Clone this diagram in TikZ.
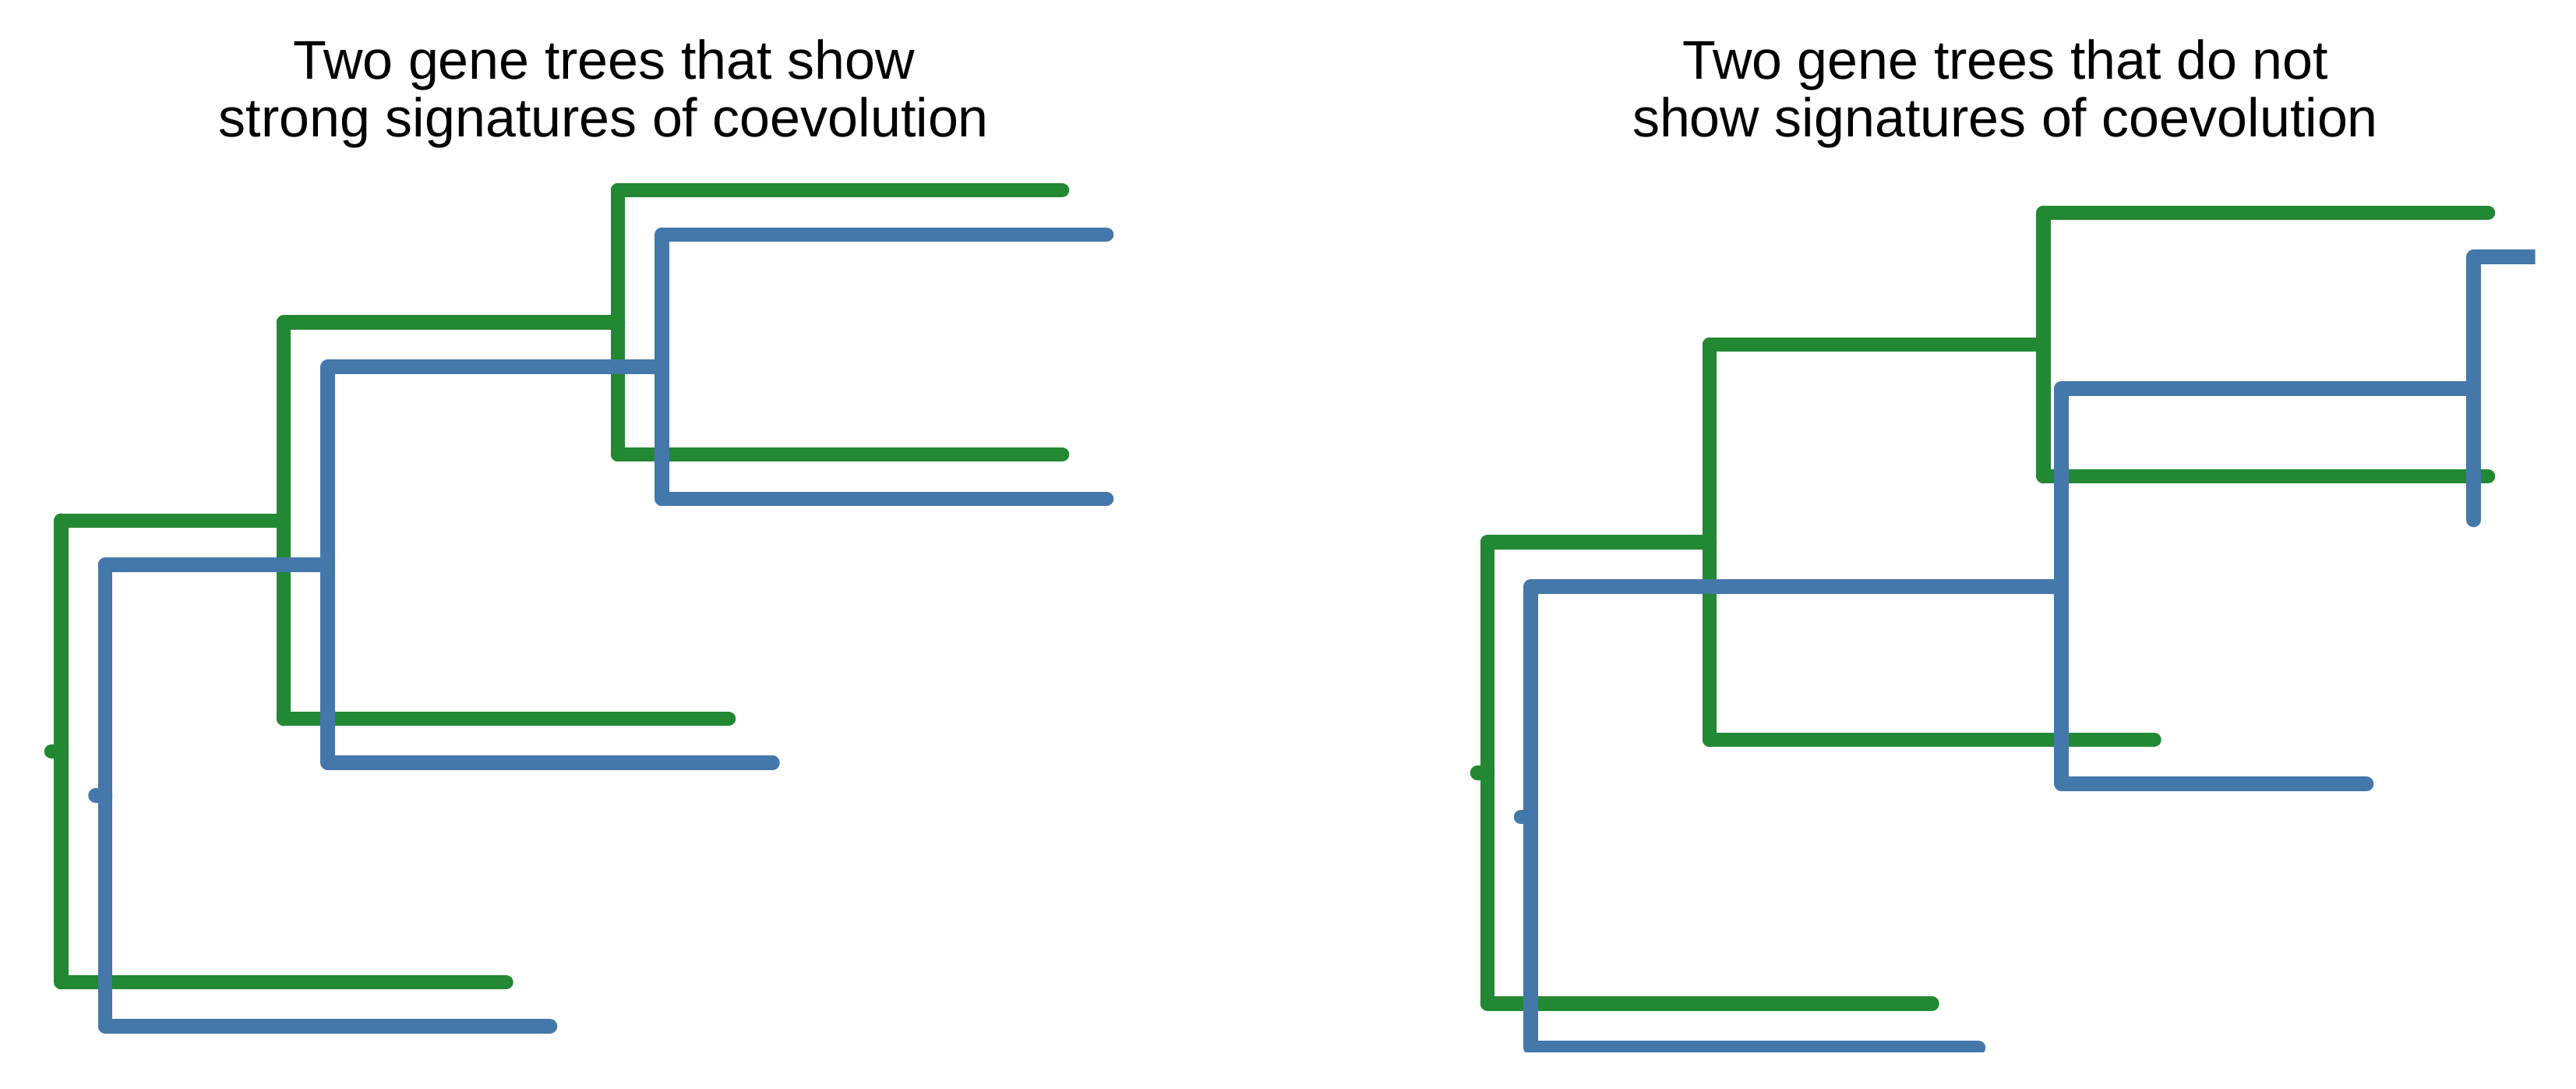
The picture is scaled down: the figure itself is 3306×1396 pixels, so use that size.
\documentclass[tikz,border=0pt]{standalone}
\usepackage{fontspec}
\setmainfont{Liberation Sans}
\definecolor{gtree}{HTML}{228833}
\definecolor{btree}{HTML}{4477AA}
\begin{document}
\begin{tikzpicture}[x=0.01cm,y=-0.01cm,
  branch/.style={line width=0.185cm,line cap=round},
  gbranch/.style={branch,draw=gtree},
  bbranch/.style={branch,draw=btree},
  titletext/.style={anchor=base,inner sep=0pt,font=\fontsize{19.9pt}{20pt}\selectfont}]
\useasboundingbox[fill=white] (0,0) rectangle (3306,1396);

% titles
\node[titletext] (t1a) at (775,101) {Two gene trees that show};
\node[titletext] (t1b) at (775,175) {strong signatures of coevolution};
\node[titletext] (t2a) at (2573.5,101) {Two gene trees that do not};
\node[titletext] (t2b) at (2573.5,175) {show signatures of coevolution};

% ---------- left panel, green tree ----------
\coordinate (lgs) at (66,963.9);
\coordinate (lgr) at (78.5,963.9);
\coordinate (lgrt) at (78.5,667.75);
\coordinate (lgrb) at (78.5,1260);
\coordinate (lgl4) at (649.5,1260);
\coordinate (lgn2) at (364,667.75);
\coordinate (lgn2t) at (364,413.5);
\coordinate (lgn2b) at (364,922);
\coordinate (lgl3) at (935,922);
\coordinate (lgn3) at (793,413.5);
\coordinate (lgn3t) at (793,244);
\coordinate (lgn3b) at (793,583);
\coordinate (lgl1) at (1363,244);
\coordinate (lgl2) at (1363,583);
\draw[gbranch] (lgs)--(lgr) (lgrt)--(lgrb) (lgrt)--(lgn2) (lgrb)--(lgl4)
  (lgn2t)--(lgn2b) (lgn2t)--(lgn3) (lgn2b)--(lgl3)
  (lgn3t)--(lgn3b) (lgn3t)--(lgl1) (lgn3b)--(lgl2);

% ---------- left panel, blue tree ----------
\coordinate (lbs) at (122.5,1020.5);
\coordinate (lbr) at (135,1020.5);
\coordinate (lbrt) at (135,724.5);
\coordinate (lbrb) at (135,1316.5);
\coordinate (lbl4) at (706,1316.5);
\coordinate (lbn2) at (420.5,724.5);
\coordinate (lbn2t) at (420.5,470.5);
\coordinate (lbn2b) at (420.5,978.5);
\coordinate (lbl3) at (991.5,978.5);
\coordinate (lbn3) at (849.5,470.5);
\coordinate (lbn3t) at (849.5,301);
\coordinate (lbn3b) at (849.5,640);
\coordinate (lbl1) at (1420,301);
\coordinate (lbl2) at (1420,640);
\draw[bbranch] (lbs)--(lbr) (lbrt)--(lbrb) (lbrt)--(lbn2) (lbrb)--(lbl4)
  (lbn2t)--(lbn2b) (lbn2t)--(lbn3) (lbn2b)--(lbl3)
  (lbn3t)--(lbn3b) (lbn3t)--(lbl1) (lbn3b)--(lbl2);

% ---------- right panel, green tree ----------
\coordinate (rgs) at (1896,991.5);
\coordinate (rgr) at (1909,991.5);
\coordinate (rgrt) at (1909,695.5);
\coordinate (rgrb) at (1909,1287.5);
\coordinate (rgl4) at (2479.5,1287.5);
\coordinate (rgn2) at (2194,695.5);
\coordinate (rgn2t) at (2194,442);
\coordinate (rgn2b) at (2194,949);
\coordinate (rgl3) at (2764.5,949);
\coordinate (rgn3) at (2622.5,442);
\coordinate (rgn3t) at (2622.5,273);
\coordinate (rgn3b) at (2622.5,611);
\coordinate (rgl1) at (3193,273);
\coordinate (rgl2) at (3193,611);
\draw[gbranch] (rgs)--(rgr) (rgrt)--(rgrb) (rgrt)--(rgn2) (rgrb)--(rgl4)
  (rgn2t)--(rgn2b) (rgn2t)--(rgn3) (rgn2b)--(rgl3)
  (rgn3t)--(rgn3b) (rgn3t)--(rgl1) (rgn3b)--(rgl2);

% ---------- right panel, blue tree ----------
\begin{scope}
\clip (1700,0) rectangle (3253.7,1349);
\coordinate (rbs) at (1952,1048);
\coordinate (rbr) at (1964.5,1048);
\coordinate (rbrt) at (1964.5,752.25);
\coordinate (rbrb) at (1964.5,1344);
\coordinate (rbl4) at (2539,1344);
\coordinate (rbn2) at (2645.5,752.25);
\coordinate (rbn2t) at (2645.5,498.25);
\coordinate (rbn2b) at (2645.5,1005.5);
\coordinate (rbl3) at (3037,1005.5);
\coordinate (rbn3) at (3174.5,498.25);
\coordinate (rbn3t) at (3174.5,329.5);
\coordinate (rbn3b) at (3174.5,667);
\coordinate (rbl1) at (3300,329.5);
\draw[bbranch] (rbs)--(rbr) (rbrt)--(rbrb) (rbrt)--(rbn2) (rbrb)--(rbl4)
  (rbn2t)--(rbn2b) (rbn2t)--(rbn3) (rbn2b)--(rbl3)
  (rbn3t)--(rbn3b) (rbn3t)--(rbl1);
\end{scope}
\end{tikzpicture}
\end{document}
